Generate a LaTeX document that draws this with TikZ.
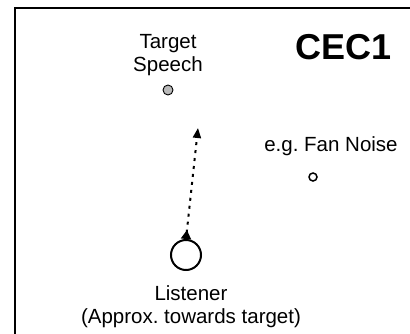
\documentclass[tikz,border=0pt]{standalone}
\usepackage{fontspec}
\setmainfont{Liberation Sans}
\usetikzlibrary{positioning,arrows.meta}
\frenchspacing

\begin{document}
\begin{tikzpicture}[
    x=1pt, y=1pt,
    txt/.style={
        align=center,
        inner sep=0pt,
        font=\fontsize{20.5}{23}\selectfont
    },
    src/.style={
        circle,
        draw,
        inner sep=0pt
    },
    arrow/.style={{Triangle[reversed,length=9pt,width=10pt]}-{Triangle[length=10pt,width=8pt]},
        line width=2pt, dash pattern=on 3pt off 5pt}
]
\useasboundingbox (0,0) rectangle (410,333);
\clip (0,0) rectangle (410,333);
\draw[line width=2.4pt] (15,-20) rectangle (430,325);

\node[src, fill=gray!55, line width=0.9pt, minimum size=10pt] (tdot) at (168,243) {};
\node[txt, above=9pt of tdot] (target) {Target\\Speech};

\node[src, line width=1.5pt, minimum size=8pt] (ndot) at (313,156) {};
\node[txt, above=16pt of ndot, xshift=18pt] (noise) {e.g. Fan Noise};

\node[src, line width=2pt, minimum size=30pt] (listener) at (186,78) {};
\node[txt, below=14pt of listener, xshift=5pt] (llabel) {Listener\\(Approx. towards target)};

\node[font=\fontsize{36}{40}\selectfont\bfseries, inner sep=0pt] (title) at (344,286) {CEC1};

\coordinate (aim) at (198,205);
\draw[arrow] (listener.north) -- (aim);
\end{tikzpicture}
\end{document}
